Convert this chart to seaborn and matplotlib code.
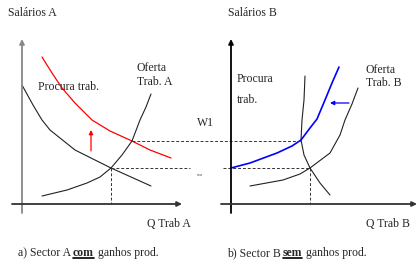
import numpy as np
import pandas as pd
import matplotlib
matplotlib.use("Agg")
import matplotlib.pyplot as plt
import seaborn as sns

# curve points (x to the right, y downwards, in px)
procura_a_x = [22, 33, 42, 50, 75, 111, 151]
procura_a_y = [85, 105, 120, 130, 150, 168, 186]
procura_a_novo_x = [42, 52, 62, 75, 92, 110, 132, 150, 171]
procura_a_novo_y = [57, 73, 88, 103, 120, 131, 141, 150, 158]
oferta_a_x = [42, 67, 87, 100, 111, 122, 132, 140, 146, 151]
oferta_a_y = [196, 190, 183, 177, 168, 155, 141, 120, 107, 94]

procura_b_x = [305, 304, 302, 301, 304, 310, 320, 330]
procura_b_y = [76, 100, 120, 140, 155, 168, 183, 195]
oferta_b_x = [250, 283, 300, 310, 330, 340, 345, 352, 358]
oferta_b_y = [186, 180, 174, 168, 153, 135, 120, 104, 88]
oferta_b_nova_x = [231, 250, 277, 292, 301, 310, 317, 325, 332, 339]
oferta_b_nova_y = [168, 163, 153, 146, 140, 128, 119, 100, 83, 67]

w1_y = 140.5
w0_y = 168
qa0_x = 111
qb0_x = 310

sns.set_style("white")
plt.rcParams["font.family"] = ["Liberation Serif", "DejaVu Serif"]

fig = plt.figure(figsize=(4.17, 2.65), dpi=100)
ax = fig.add_axes([0, 0, 1, 1])
ax.set_xlim(0, 417)
ax.set_ylim(265, 0)
ax.axis("off")

def curve(xs, ys, color, lw=0.8):
    df = pd.DataFrame({"x": xs, "y": ys})
    sns.lineplot(data=df, x="x", y="y", sort=False, estimator=None,
                 color=color, lw=lw, ax=ax)

curve(procura_a_x, procura_a_y, "#222222")
curve(procura_a_novo_x, procura_a_novo_y, "red", 0.9)
curve(oferta_a_x, oferta_a_y, "#222222")
curve(procura_b_x, procura_b_y, "#222222")
curve(oferta_b_x, oferta_b_y, "#222222")
curve(oferta_b_nova_x, oferta_b_nova_y, "blue", 1.2)

# axes
arr = dict(arrowstyle="-|>", mutation_scale=7, lw=1.3, shrinkA=0, shrinkB=0)
ax.annotate("", xy=(22, 39), xytext=(22, 213), arrowprops=dict(arr, color="#888888"))
ax.annotate("", xy=(182, 204), xytext=(12, 204), arrowprops=dict(arr, color="#333333"))
ax.annotate("", xy=(231, 39), xytext=(231, 213), arrowprops=dict(arr, color="black"))
ax.annotate("", xy=(417, 204), xytext=(221, 204), arrowprops=dict(arr, color="#333333"))

# dashed guides
dash = dict(color="#333333", lw=0.7, ls=(0, (3, 2)))
ax.plot([132, 301], [w1_y, w1_y], **dash)
ax.plot([qa0_x, 190], [w0_y, w0_y], **dash)
ax.plot([223, qb0_x], [w0_y, w0_y], **dash)
ax.plot([qa0_x, qa0_x], [w0_y, 204], **dash)
ax.plot([qb0_x, qb0_x], [w0_y, 204], **dash)

# shift arrows
ax.annotate("", xy=(91, 130), xytext=(91, 151),
            arrowprops=dict(arrowstyle="-|>", mutation_scale=6, lw=0.9, color="red",
                            shrinkA=0, shrinkB=0))
ax.annotate("", xy=(330, 103), xytext=(349, 103),
            arrowprops=dict(arrowstyle="-|>", mutation_scale=6, lw=0.9, color="blue",
                            shrinkA=0, shrinkB=0))

fs = 8.5
def txt(x, y, s, **kw):
    ax.text(x, y, s, fontsize=kw.pop("fontsize", fs), ha="left", va="center", **kw)

txt(8, 13, "Salários A")
txt(38, 87, "Procura trab.")
txt(137, 68, "Oferta")
txt(137, 82, "Trab. A")
txt(197, 123, "W1")
txt(197, 175, "wo", fontsize=3)
txt(147, 224, "Q Trab A")

txt(228, 13, "Salários B")
txt(237, 79, "Procura", bbox=dict(facecolor="white", edgecolor="none", pad=1.5))
txt(237, 100, "trab.", bbox=dict(facecolor="white", edgecolor="none", pad=1.5))
txt(366, 70, "Oferta")
txt(366, 83, "Trab. B")
txt(366, 224, "Q Trab B")

# captions with the bold underlined word
txt(18, 253, "a) Sector A")
txt(73, 253, "com", fontweight="bold")
txt(98, 253, "ganhos prod.")
ax.plot([73, 94], [257.5, 257.5], color="black", lw=1.2)

txt(227, 253, "b) Sector B")
txt(283, 253, "sem", fontweight="bold")
txt(306, 253, "ganhos prod.")
ax.plot([283, 302], [257.5, 257.5], color="black", lw=1.2)

fig.savefig("out.png", dpi=100)
